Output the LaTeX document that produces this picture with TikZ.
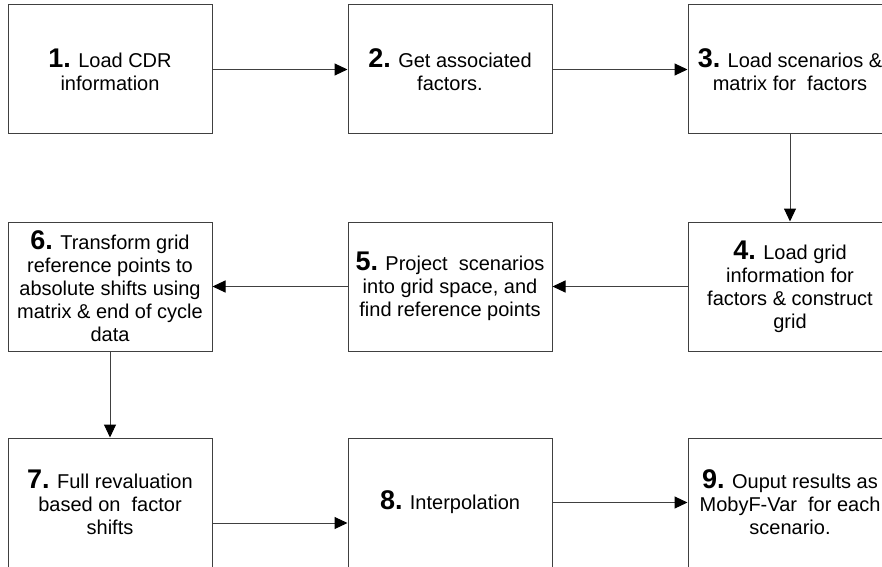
\documentclass[tikz,border=0pt]{standalone}
\usepackage{fontspec}
\setmainfont{Liberation Sans}
\usetikzlibrary{arrows.meta}
\newcommand\stepnum[1]{{\fontsize{27}{23}\selectfont\bfseries #1}}
\begin{document}
\begin{tikzpicture}[x=1pt,y=1pt,
  stepbox/.style={draw=black!75, line width=1pt, minimum width=204pt, minimum height=129pt,
    align=center, inner sep=2pt, font=\fontsize{20}{23}\selectfont},
  conn/.style={draw=black!75, line width=1pt, -{Triangle[length=13pt,width=12pt,color=black]}}]
\path[use as bounding box] (0,0) rectangle (882,566);
\clip (0,0) rectangle (882,566);
\node[stepbox] (b1) at (110,496.5) {\stepnum{1.} Load CDR\\information};
\node[stepbox] (b2) at (450,496.5) {\stepnum{2.} Get associated\\factors.};
\node[stepbox] (b3) at (790,496.5) {\stepnum{3.} Load scenarios \&\\matrix for\ \ factors};
\node[stepbox] (b4) at (790,279.5) {\stepnum{4.} Load grid\\information for\\factors \& construct\\grid};
\node[stepbox] (b5) at (450,279.5) {\stepnum{5.} Project\ \ scenarios\\into grid space, and\\find reference points};
\node[stepbox] (b6) at (110,279.5) {\stepnum{6.} Transform grid\\reference points to\\absolute shifts using\\matrix \& end of cycle\\data};
\node[stepbox] (b7) at (110,63.5) {\stepnum{7.} Full revaluation\\based on\ \ factor\\shifts};
\node[stepbox] (b8) at (450,63.5) {\stepnum{8.} Interpolation};
\node[stepbox] (b9) at (790,63.5) {\stepnum{9.} Ouput results as\\MobyF-Var\ \ for each\\scenario.};
\draw[conn] (b1) -- (b2);
\draw[conn] (b2) -- (b3);
\draw[conn] (b3) -- (b4);
\draw[conn] (b4) -- (b5);
\draw[conn] (b5) -- (b6);
\draw[conn] (b6) -- (b7);
\draw[conn] ([yshift=-20.5pt]b7.east) -- ([yshift=-20.5pt]b8.west);
\draw[conn] (b8) -- (b9);
\end{tikzpicture}
\end{document}
